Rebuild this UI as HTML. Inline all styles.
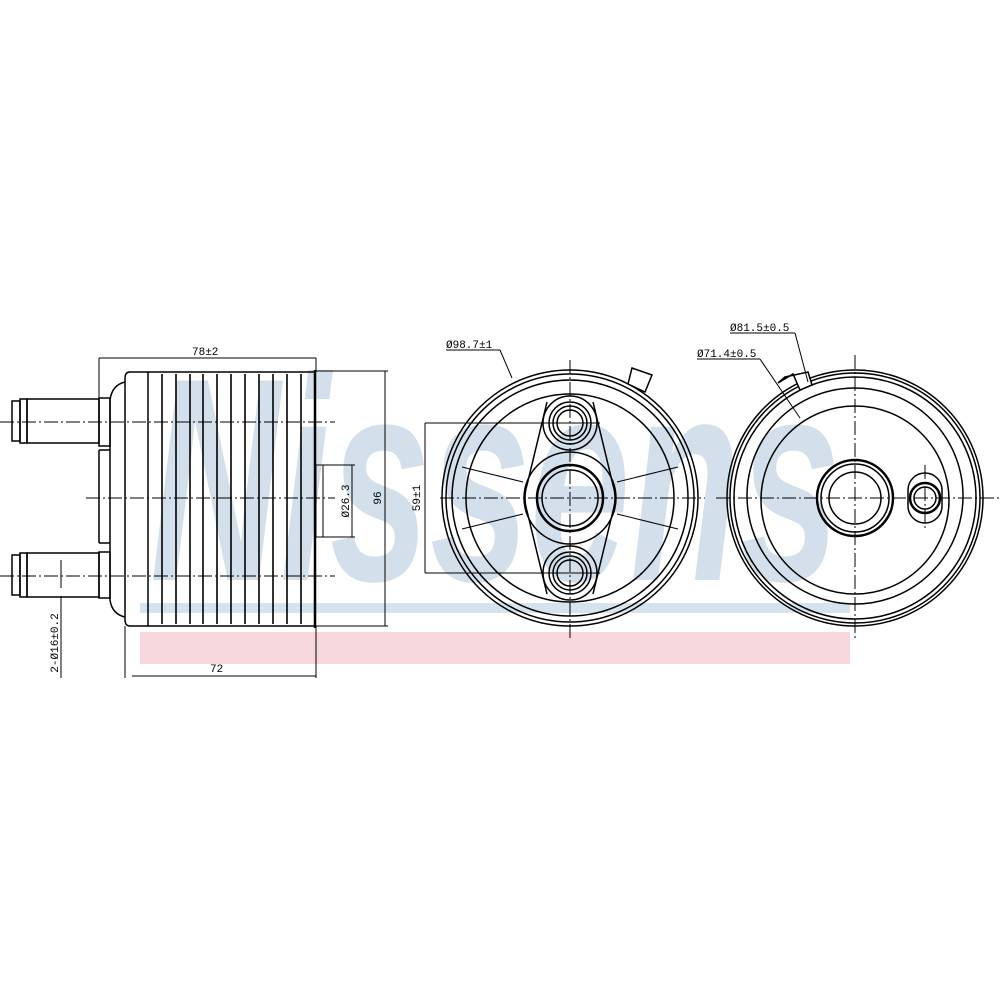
<!DOCTYPE html>
<html><head><meta charset="utf-8"><style>
html,body{margin:0;padding:0;background:#fff}
svg{display:block}
text{font-family:"Liberation Mono",monospace;fill:#000}
</style></head><body>
<svg width="1000" height="1000" viewBox="0 0 1000 1000" xmlns="http://www.w3.org/2000/svg">
<!-- watermark -->
<rect x="140" y="603" width="710" height="10" fill="#d6e3ec"/>
<rect x="140" y="632" width="710" height="32" fill="#f6d7dd"/>
<text x="150" y="580" font-size="290" style="fill:#d3e0ec;font-family:'Liberation Sans',sans-serif;font-style:italic;font-weight:bold" textLength="690" lengthAdjust="spacingAndGlyphs">Nissens</text>

<g fill="none" stroke="#000" stroke-width="1.5">
<!-- LEFT VIEW -->
<rect x="148" y="372" width="167" height="254"/>
<g stroke-width="1.6">
<line x1="162" y1="374" x2="162" y2="624"/><line x1="176" y1="374" x2="176" y2="624"/>
<line x1="190" y1="374" x2="190" y2="624"/><line x1="203" y1="374" x2="203" y2="624"/>
<line x1="217" y1="374" x2="217" y2="624"/><line x1="231" y1="374" x2="231" y2="624"/>
<line x1="245" y1="374" x2="245" y2="624"/><line x1="259" y1="374" x2="259" y2="624"/>
<line x1="273" y1="374" x2="273" y2="624"/><line x1="287" y1="374" x2="287" y2="624"/>
<line x1="301" y1="374" x2="301" y2="624"/>
</g>
<line x1="315" y1="370" x2="315" y2="628" stroke-width="2.5"/>
<path d="M148 372 L130 372 Q125 372 125 378 L125 620 Q125 626 130 626 L148 626"/>
<path d="M125 382 Q112 385 110 400 L110 600 Q112 614 125 617"/>
<rect x="99" y="398" width="11" height="48"/>
<rect x="99" y="552" width="11" height="46"/>
<line x1="99" y1="450" x2="110" y2="450"/><line x1="99" y1="450" x2="99" y2="543"/><line x1="99" y1="543" x2="110" y2="543"/>
<rect x="27" y="399" width="72" height="44"/>
<rect x="12" y="401" width="8" height="40"/><rect x="20" y="399" width="7" height="44"/>
<rect x="27" y="553" width="72" height="44"/>
<rect x="12" y="555" width="8" height="40"/><rect x="20" y="553" width="7" height="44"/>
<g stroke-width="1" stroke-dasharray="14,3,2,3">
<line x1="0" y1="422" x2="335" y2="422"/>
<line x1="0" y1="576" x2="335" y2="576"/>
<line x1="86" y1="498" x2="335" y2="498"/>
</g>
<g stroke-width="1">
<line x1="99" y1="358" x2="99" y2="398"/><line x1="316" y1="358" x2="316" y2="372"/>
<line x1="99" y1="358" x2="316" y2="358"/>
<rect x="316" y="465" width="7" height="72"/>
<line x1="323" y1="465" x2="355" y2="465"/><line x1="323" y1="537" x2="355" y2="537"/>
<line x1="352" y1="465" x2="352" y2="537"/>
<line x1="316" y1="371" x2="388" y2="371"/><line x1="316" y1="626" x2="388" y2="626"/>
<line x1="385" y1="371" x2="385" y2="626"/>
<line x1="125" y1="626" x2="125" y2="678"/><line x1="316" y1="626" x2="316" y2="678"/>
<line x1="132" y1="676" x2="316" y2="676"/>
<line x1="61" y1="560" x2="61" y2="588"/><line x1="61" y1="596" x2="61" y2="678"/>
</g>

<!-- MIDDLE VIEW -->
<circle cx="570" cy="498" r="128"/>
<circle cx="570" cy="498" r="124"/>
<circle cx="570" cy="498" r="118"/>
<circle cx="570" cy="498" r="104"/>
<polygon points="632,368 652,375 645,392 628,384" fill="#fff"/>
<path d="M547 402 L527 485 Q523 498 527 511 L547 594 M593 402 L613 485 Q617 498 613 511 L593 594"/>
<circle cx="570" cy="498" r="46"/>
<circle cx="570" cy="498" r="33" stroke-width="2.5"/>
<circle cx="570" cy="498" r="28"/>
<g>
<circle cx="570" cy="423" r="27"/><circle cx="570" cy="423" r="21"/><circle cx="570" cy="423" r="17"/><circle cx="570" cy="423" r="13"/>
<circle cx="570" cy="573" r="27"/><circle cx="570" cy="573" r="21"/><circle cx="570" cy="573" r="17"/><circle cx="570" cy="573" r="13"/>
</g>
<g stroke-width="1">
<line x1="523" y1="482" x2="462" y2="467"/><line x1="523" y1="514" x2="462" y2="529"/>
<line x1="617" y1="482" x2="678" y2="467"/><line x1="617" y1="514" x2="678" y2="529"/>
<line x1="425" y1="423" x2="600" y2="423"/><line x1="425" y1="573" x2="600" y2="573"/>
<line x1="425" y1="423" x2="425" y2="573"/>
<line x1="446" y1="350" x2="500" y2="350"/><line x1="500" y1="350" x2="512" y2="378"/>
</g>
<g stroke-width="1" stroke-dasharray="14,3,2,3">
<line x1="440" y1="498" x2="705" y2="498"/>
<line x1="570" y1="360" x2="570" y2="640"/>
</g>

<!-- RIGHT VIEW -->
<circle cx="855" cy="498" r="128"/>
<circle cx="855" cy="498" r="125"/>
<circle cx="855" cy="498" r="121"/>
<circle cx="855" cy="496" r="108"/>
<circle cx="855" cy="500" r="94"/>
<polygon points="778,383 793,374 800,390 812,385 808,372 785,377" fill="#fff"/>
<circle cx="855" cy="498" r="38" stroke-width="2.5"/>
<circle cx="855" cy="498" r="34"/>
<circle cx="855" cy="498" r="26"/>
<rect x="908" y="473" width="34" height="50" rx="17"/>
<circle cx="925" cy="498" r="15" stroke-width="2.5"/>
<circle cx="925" cy="498" r="11"/>
<g stroke-width="1">
<line x1="730" y1="333" x2="795" y2="333"/><line x1="795" y1="333" x2="808" y2="382"/>
<line x1="697" y1="359" x2="760" y2="359"/><line x1="760" y1="359" x2="800" y2="418"/>
</g>
<g stroke-width="1" stroke-dasharray="14,3,2,3">
<line x1="716" y1="498" x2="1000" y2="498"/>
<line x1="855" y1="355" x2="855" y2="640"/>
<line x1="925" y1="465" x2="925" y2="530"/>
</g>
</g>

<text x="192" y="355" font-size="11">78±2</text>
<text x="210" y="672" font-size="11">72</text>
<text transform="translate(349,501) rotate(-90)" font-size="11" text-anchor="middle">Ø26.3</text>
<text transform="translate(381,498) rotate(-90)" font-size="11" text-anchor="middle">96</text>
<text transform="translate(58,643) rotate(-90)" font-size="11" text-anchor="middle">2-Ø16±0.2</text>
<text transform="translate(420,498) rotate(-90)" font-size="11" text-anchor="middle">59±1</text>
<text x="446" y="348" font-size="11">Ø98.7±1</text>
<text x="730" y="331" font-size="11">Ø81.5±0.5</text>
<text x="697" y="357" font-size="11">Ø71.4±0.5</text>
</svg>
</body></html>
